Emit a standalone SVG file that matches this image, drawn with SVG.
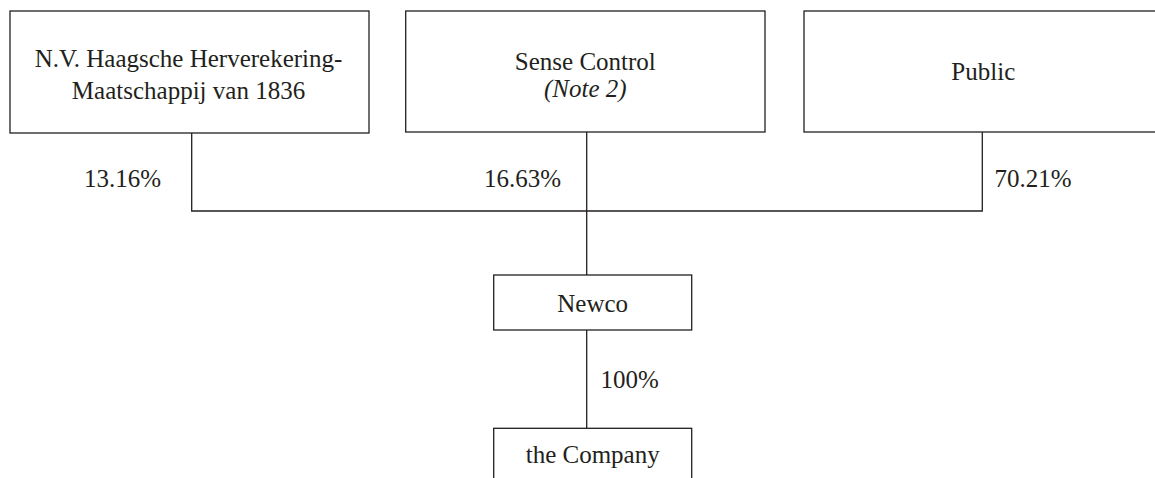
<svg xmlns="http://www.w3.org/2000/svg" width="1155" height="478" viewBox="0 0 1155 478">
<style>
.box{fill:#fff;stroke:#231f20;stroke-width:1.3}
.ln{fill:none;stroke:#231f20;stroke-width:1.3}
text{font-family:"Liberation Serif","Times New Roman",serif;font-size:25px;fill:#231f20}
.c{text-anchor:middle}
.i{font-style:italic}
</style>
<rect width="1155" height="478" fill="#fff"/>
<g id="connectors">
<path class="ln" d="M191.7 133V211H982.3V132"/>
<path class="ln" d="M586.7 132V275"/>
<path class="ln" d="M586.7 330V428.3"/>
</g>
<g id="hhm">
<rect class="box" x="10" y="11" width="359" height="122"/>
<text class="c" x="188.5" y="67">N.V. Haagsche Herverekering-</text>
<text class="c" x="188.5" y="99">Maatschappij van 1836</text>
</g>
<g id="sense">
<rect class="box" x="405.7" y="11" width="359.3" height="121"/>
<text class="c" x="585.3" y="70">Sense Control</text>
<text class="c i" x="585.3" y="97">(Note 2)</text>
</g>
<g id="public">
<rect class="box" x="804" y="11" width="370" height="121"/>
<text class="c" x="983.3" y="80">Public</text>
</g>
<g id="newco">
<rect class="box" x="493.7" y="275" width="198" height="55"/>
<text class="c" x="592.7" y="312">Newco</text>
</g>
<g id="company">
<rect class="box" x="493.7" y="428.3" width="198" height="60"/>
<text class="c" x="592.7" y="463.3">the Company</text>
</g>
<g id="labels">
<text x="84" y="187">13.16%</text>
<text x="484" y="187">16.63%</text>
<text x="994.5" y="187">70.21%</text>
<text x="600.5" y="388">100%</text>
</g>
</svg>
